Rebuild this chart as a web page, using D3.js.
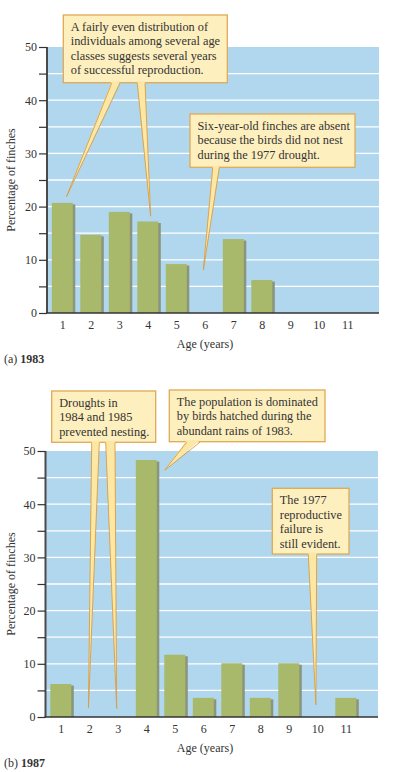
<!DOCTYPE html>
<html>
<head>
<meta charset="utf-8">
<script src="https://cdn.jsdelivr.net/npm/d3@7"></script>
<style>
  body { margin: 0; background: #fff; }
  text { font-family: "Liberation Serif", "Times New Roman", serif; fill: #333; }
</style>
</head>
<body>
<div id="chart"></div>
<script>
// data
const ages = [1, 2, 3, 4, 5, 6, 7, 8, 9, 10, 11];
const pct1983 = [20.7, 14.7, 19.0, 17.2, 9.2, 0, 13.9, 6.2, 0, 0, 0];
const pct1987 = [6.2, 0, 0, 48.3, 11.7, 3.6, 10.1, 3.6, 10.1, 0, 3.6];
const yTicks = [0, 5, 10, 15, 20, 25, 30, 35, 40, 45, 50];

const notes1983 = [
  ["A fairly even distribution of", "individuals among several age",
   "classes suggests several years", "of successful reproduction."],
  ["Six-year-old finches are absent", "because the birds did not nest",
   "during the 1977 drought."]
];
const notes1987 = [
  ["Droughts in", "1984 and 1985", "prevented nesting."],
  ["The population is dominated", "by birds hatched during the",
   "abundant rains of 1983."],
  ["The 1977", "reproductive", "failure is", "still evident."]
];

// callout layout: box in pixels, pointer bases in pixels, tips in (age, pct)
const layout1983 = [
  { box: [63.3, 15, 164, 67.7], ptrs: [
      { base: [111.7, 120], tip: [1.15, 21.9] },
      { base: [137.3, 145], tip: [4.1, 18.2] } ] },
  { box: [190, 114, 165, 53.3], ptrs: [
      { base: [212.7, 219.3], tip: [5.95, 8.1] } ] }
];
const layout1987 = [
  { box: [51.7, 391, 104, 51.3], ptrs: [
      { base: [91.7, 99.3], tip: [1.97, 1.75] },
      { base: [105.7, 115], tip: [2.96, 1.6] } ] },
  { box: [169.3, 390, 155.7, 51.7], ptrs: [
      { base: [186.7, 200], tip: [4.65, 46.4] } ] },
  { box: [272.3, 488.3, 76.7, 65.7], ptrs: [
      { base: [308.3, 316.7], tip: [9.95, 2.3] } ] }
];

const W = 395, H = 772;
const svg = d3.select("#chart").append("svg")
  .attr("width", W).attr("height", H);

function drawPanel(cfg) {
  const g = svg.append("g");
  const y = d3.scaleLinear().domain([0, 50]).range([cfg.base, cfg.top]);
  const x = d3.scaleLinear().domain([1, 11])
    .range([cfg.left + 15.3, cfg.left + 15.3 + 10 * 28.5]);
  const barW = 21;

  // blue plot background
  g.append("rect")
    .attr("x", cfg.left).attr("y", y(50))
    .attr("width", cfg.right - cfg.left).attr("height", y(0) - y(50))
    .attr("fill", "#b0d7ee");

  // white grid lines
  g.selectAll(".grid").data(yTicks.filter(d => d > 0 && d < 50))
    .enter().append("line")
    .attr("x1", cfg.left).attr("x2", cfg.right)
    .attr("y1", d => y(d)).attr("y2", d => y(d))
    .attr("stroke", "#fff").attr("stroke-width", 1.3);

  const rows = ages.map((a, i) => ({ age: a, v: cfg.values[i] })).filter(d => d.v > 0);

  // bar shadows then bars
  g.selectAll(".shadow").data(rows).enter().append("rect")
    .attr("x", d => x(d.age) - barW / 2 + 2.5)
    .attr("y", d => y(d.v) + 1.5)
    .attr("width", barW).attr("height", d => y(0) - y(d.v) - 1.5)
    .attr("fill", "#8b947c");
  g.selectAll(".bar").data(rows).enter().append("rect")
    .attr("x", d => x(d.age) - barW / 2)
    .attr("y", d => y(d.v))
    .attr("width", barW).attr("height", d => y(0) - y(d.v))
    .attr("fill", "#a9b96b");

  // axes
  const yAxis = d3.axisLeft(y).tickValues(yTicks).tickSize(8).tickPadding(2)
    .tickFormat(d => d % 10 === 0 ? d : "");
  const ya = g.append("g").attr("transform", "translate(" + cfg.left + ",0)").call(yAxis);
  ya.select(".domain").attr("stroke", "#4a4a4a").attr("stroke-width", 2).attr("d",
    "M0," + y(50) + "V" + y(0));
  ya.selectAll(".tick line").attr("stroke", "#333").attr("stroke-width", 1.2);
  ya.selectAll("text").style("font-size", "12px").attr("fill", "#333");

  const xAxis = d3.axisBottom(x).tickValues(ages).tickSize(0).tickPadding(7);
  const xa = g.append("g").attr("transform", "translate(0," + y(0) + ")").call(xAxis);
  xa.select(".domain").attr("stroke", "#333").attr("stroke-width", 1.6)
    .attr("d", "M" + (cfg.left - 1) + ",0H" + cfg.right);
  xa.selectAll("text").style("font-size", "12px").attr("fill", "#333");

  // labels
  g.append("text")
    .attr("transform", "translate(15," + (y(0) + y(50)) / 2 + ") rotate(-90)")
    .attr("text-anchor", "middle").style("font-size", "12px")
    .text("Percentage of finches");
  g.append("text")
    .attr("x", 205).attr("y", y(0) + 35)
    .attr("text-anchor", "middle").style("font-size", "12px")
    .text("Age (years)");
  const cap = g.append("text").attr("x", 4).attr("y", y(0) + 50).style("font-size", "12px");
  cap.append("tspan").text(cfg.letter + " ");
  cap.append("tspan").attr("font-weight", "bold").text(cfg.year);

  // callouts
  cfg.notes.forEach((lines, i) => {
    const L = cfg.layout[i];
    const [bx, by, bw, bh] = L.box;
    const bottom = by + bh;
    const c = g.append("g");
    c.append("rect")
      .attr("x", bx).attr("y", by).attr("width", bw).attr("height", bh)
      .attr("fill", "#feefbe").attr("stroke", "#dfa955").attr("stroke-width", 1.3);
    L.ptrs.forEach(p => {
      const tx = x(p.tip[0]), ty = y(p.tip[1]);
      c.append("path")
        .attr("d", "M" + p.base[0] + "," + (bottom - 1.5) + "L" + p.base[1] + "," + (bottom - 1.5) +
          "L" + tx + "," + ty + "Z")
        .attr("fill", "#fde7a4");
      c.append("path")
        .attr("d", "M" + p.base[0] + "," + (bottom + 0.5) + "L" + tx + "," + ty +
          "L" + p.base[1] + "," + (bottom + 0.5))
        .attr("fill", "none").attr("stroke", "#d99d40").attr("stroke-width", 0.9);
    });
    c.selectAll("text").data(lines).enter().append("text")
      .attr("x", bx + 7.5).attr("y", (d, k) => by + 16 + k * 14.4)
      .style("font-size", "12.3px").attr("fill", "#3a3a3a")
      .text(d => d);
  });
}

drawPanel({ left: 47, right: 379, top: 47, base: 313, values: pct1983,
  letter: "(a)", year: "1983", notes: notes1983, layout: layout1983 });
drawPanel({ left: 45.5, right: 378, top: 451, base: 717, values: pct1987,
  letter: "(b)", year: "1987", notes: notes1987, layout: layout1987 });
</script>
</body>
</html>
